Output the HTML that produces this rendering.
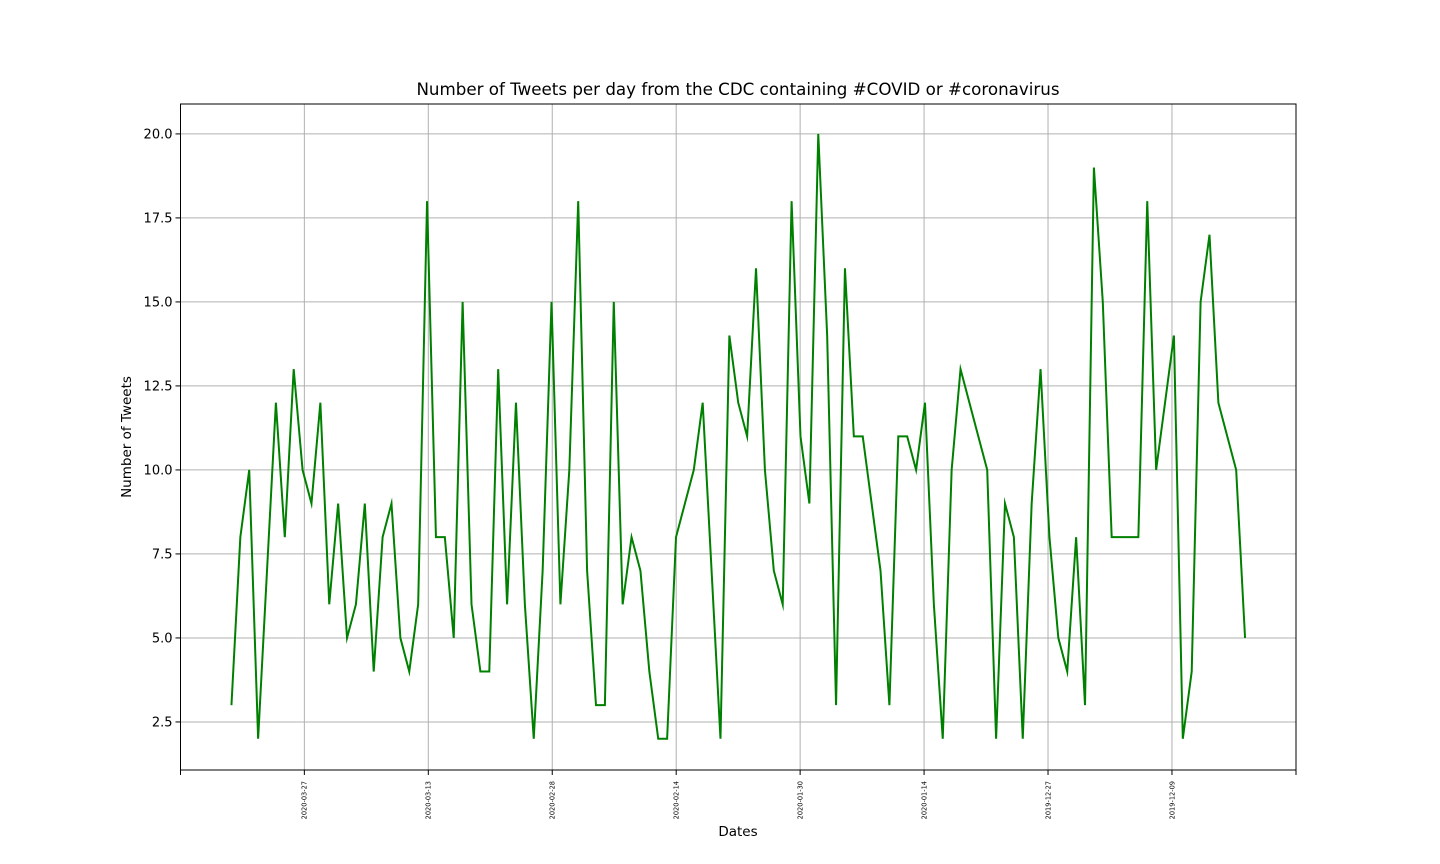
<!DOCTYPE html>
<html><head><meta charset="utf-8">
<style>
html,body{margin:0;padding:0;background:#fff;}
svg{display:block;font-family:"DejaVu Sans","Liberation Sans",sans-serif;}
</style></head>
<body>
<svg id="chart" width="1440" height="864" viewBox="0 0 1440 864" xmlns="http://www.w3.org/2000/svg">
<rect x="0" y="0" width="1440" height="864" fill="#fff"/>
<text x="738" y="95" font-size="16.7" text-anchor="middle" fill="#000">Number of Tweets per day from the CDC containing #COVID or #coronavirus</text>
<text x="738" y="836" font-size="13.5" text-anchor="middle" fill="#000">Dates</text>
<text x="131" y="437" font-size="13.5" text-anchor="middle" fill="#000" transform="rotate(-90 131 437)">Number of Tweets</text>
<g id="grid"></g>
<g id="series"></g>
<g id="axes"></g>
</svg>
<script>
const tweetCounts = [3,8,10,2,7,12,8,13,10,9,12,6,9,5,6,9,4,8,9,5,4,6,18,8,8,5,15,6,4,4,13,6,12,6,2,7,15,6,10,18,
7,3,3,15,6,8,7,4,2,2,8,9,10,12,7,2,14,12,11,16,10,7,6,18,11,9,20,14,3,16,11,11,9,7,3,11,11,10,
12,6,2,10,13,12,11,10,2,9,8,2,9,13,8,5,4,8,3,19,15,8,8,8,8,18,10,12,14,2,4,15,17,12,11,10,5];
const xTickLabels = ["2020-03-27","2020-03-13","2020-02-28","2020-02-14","2020-01-30","2020-01-14","2019-12-27","2019-12-09"];
const xTickIndexStart = 8.2;
const xTickIndexStep = 13.94;
const yTicks = [2.5,5.0,7.5,10.0,12.5,15.0,17.5,20.0];
const xDomain = [-5.73, 119.73];
const yDomain = [1.07, 20.89];

const L=180.5, R=1296, T=104, B=770;
const NS="http://www.w3.org/2000/svg";
function xs(i){return L+(i-xDomain[0])/(xDomain[1]-xDomain[0])*(R-L);}
function ys(v){return B-(v-yDomain[0])/(yDomain[1]-yDomain[0])*(B-T);}
function mk(tag,attrs,parent){const e=document.createElementNS(NS,tag);for(const k in attrs)e.setAttribute(k,attrs[k]);parent.appendChild(e);return e;}
const grid=document.getElementById('grid'), axes=document.getElementById('axes'), series=document.getElementById('series');

yTicks.forEach(v=>{
  const y=ys(v);
  const g=mk('line',{x1:L,x2:R,y1:y,y2:y,stroke:'#b0b0b0','stroke-width':1},grid);
  
  
  const t=mk('line',{x1:L-5,x2:L,y1:y,y2:y,stroke:'#000','stroke-width':1},axes);
  
  
  const lb=mk('text',{x:L-8,y:y+4.5,'font-size':13,'text-anchor':'end',fill:'#000'},axes);
  lb.textContent=v.toFixed(1);
  
  
});

[xDomain[0],xDomain[1]].forEach(i=>{
  const x=xs(i);
  const t=mk('line',{x1:x,x2:x,y1:B,y2:B+5,stroke:'#000','stroke-width':1},axes);
  
  
});
xTickLabels.forEach((lab,k)=>{
  const x=xs(xTickIndexStart+k*xTickIndexStep);
  const g=mk('line',{x1:x,x2:x,y1:T,y2:B,stroke:'#b0b0b0','stroke-width':1},grid);
  
  
  const t=mk('line',{x1:x,x2:x,y1:B,y2:B+5,stroke:'#000','stroke-width':1},axes);
  
  
  const lb=mk('text',{x:x+2.3,y:B+11,'font-size':6.6,'text-anchor':'end',fill:'#000',transform:`rotate(-90 ${x+2.3} ${B+11})`},axes);
  lb.textContent=lab;
  
  
});

const frame=mk('rect',{x:L,y:T,width:R-L,height:B-T,fill:'none',stroke:'#000','stroke-width':1},axes);



const pts=tweetCounts.map((v,i)=>xs(i).toFixed(2)+','+ys(v).toFixed(2)).join(' ');
const line=mk('polyline',{points:pts,fill:'none',stroke:'#008000','stroke-width':2,'stroke-linejoin':'miter','stroke-miterlimit':10},series);


</script>
</body></html>
